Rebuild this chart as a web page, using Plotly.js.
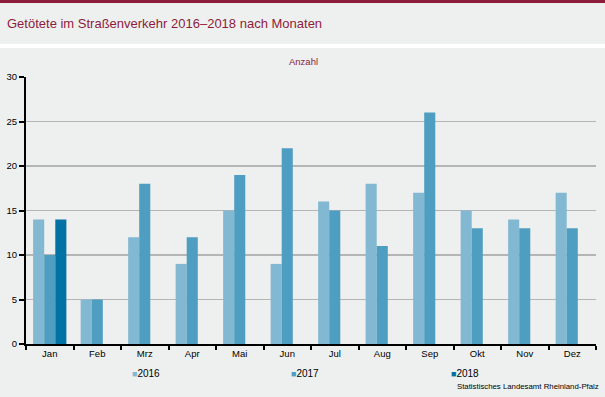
<!DOCTYPE html>
<html>
<head>
<meta charset="utf-8">
<script src="https://cdn.plot.ly/plotly-3.0.1.min.js"></script>
<style>html,body{margin:0;padding:0;background:#eef0ef;}#chart{width:605px;height:397px;}</style>
</head>
<body>
<div id="chart"></div>
<script>
const months = ["Jan","Feb","Mrz","Apr","Mai","Jun","Jul","Aug","Sep","Okt","Nov","Dez"];
const v2016 = [14,5,12,9,15,9,16,18,17,15,14,17];
const v2017 = [10,5,18,12,19,22,15,11,26,13,13,13];
const v2018 = [14,null,null,null,null,null,null,null,null,null,null,null];
const seriesNames = ["2016","2017","2018"];
const colors = ["#83b8d3","#4e9ec1","#0072a3"];
const yTicks = [0,5,10,15,20,25,30];

const font = "Liberation Sans, Arial, sans-serif";
const values = [v2016, v2017, v2018];
const traces = values.map((v,i)=>({
  type:"bar", x:months, y:v, name:seriesNames[i],
  marker:{color:colors[i]}, showlegend:false, hoverinfo:"x+y+name"
}));
// helper trace so the overlay axis carrying the heavier 10-step grid is drawn
traces.push({type:"scatter", mode:"markers", x:[null], y:[null], yaxis:"y2", showlegend:false, hoverinfo:"skip"});

const py = p => (344 - p) / 267;
const px = p => (p - 26) / 570;

const legendX = [130, 289, 449];
const legendAnn = seriesNames.map((n,i)=>({
  text:'<span style="color:'+colors[i]+';font-size:9px">■</span>'+n,
  xref:"paper", yref:"paper", x:px(legendX[i]), y:py(373), xanchor:"left", yanchor:"middle",
  showarrow:false, font:{family:font, size:10, color:"#000"}
}));

const layout = {
  width:605, height:397,
  paper_bgcolor:"#eef0ef", plot_bgcolor:"#eef0ef",
  margin:{l:26, r:9, t:77, b:53, autoexpand:false},
  font:{family:font, size:9, color:"#000"},
  title:{text:"Getötete im Straßenverkehr 2016–2018 nach Monaten", font:{family:font, size:13, color:"#8c1c3c"},
    xref:"container", yref:"container", x:7/605, xanchor:"left", y:1-23/397, yanchor:"middle"},
  barmode:"group", bargap:0.3, bargroupgap:0,
  xaxis:{type:"category", showline:true, linecolor:"#000", linewidth:2, ticks:"outside", tickson:"boundaries",
    ticklen:4, tickwidth:2, tickcolor:"#000", showgrid:false, tickfont:{family:font, size:9.5}, fixedrange:true},
  yaxis:{range:[0,30], tickvals:yTicks, showline:true, linecolor:"#000", linewidth:2, ticks:"outside",
    ticklen:5, tickwidth:2, tickcolor:"#000", showgrid:true, gridcolor:"#b5b5b5", gridwidth:1, zeroline:false,
    tickfont:{family:font, size:9.5}, fixedrange:true},
  yaxis2:{range:[0,30], overlaying:"y", dtick:10, tick0:0, showticklabels:false, showline:false, ticks:"",
    showgrid:true, gridcolor:"#b5b5b5", gridwidth:2, zeroline:false, fixedrange:true},
  showlegend:false,
  annotations:[
    {text:"Anzahl", xref:"paper", yref:"paper", x:px(303), y:py(61), showarrow:false, xanchor:"center", yanchor:"middle",
      font:{family:font, size:9.5, color:"#8c1c3c"}},
    {text:"Statistisches Landesamt Rheinland-Pfalz", xref:"paper", yref:"paper", x:px(601), y:py(386), showarrow:false,
      xanchor:"right", yanchor:"middle", font:{family:font, size:7.8, color:"#000"}}
  ].concat(legendAnn),
  shapes:[
    {type:"rect", xref:"paper", yref:"paper", x0:-0.1, x1:1.1, y0:py(3), y1:py(-5), fillcolor:"#8c1c3c", line:{width:0}, layer:"below"},
    {type:"rect", xref:"paper", yref:"paper", x0:-0.1, x1:1.1, y0:py(48), y1:py(44), fillcolor:"#ffffff", line:{width:0}, layer:"below"}
  ]
};
Plotly.newPlot("chart", traces, layout, {displayModeBar:false, staticPlot:true});
</script>
</body>
</html>
